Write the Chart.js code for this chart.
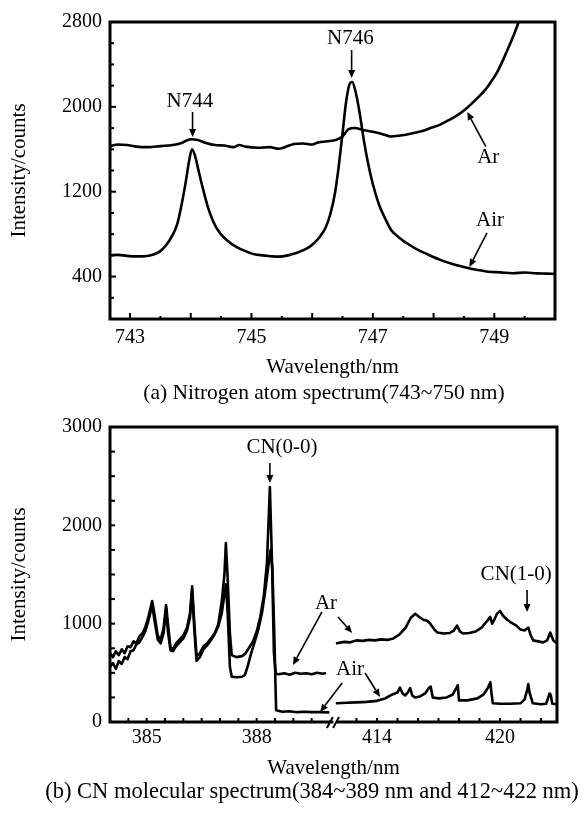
<!DOCTYPE html>
<html>
<head>
<meta charset="utf-8">
<title>Nitrogen and CN emission spectra</title>
<script src="https://cdn.jsdelivr.net/npm/chart.js@4.4.1/dist/chart.umd.min.js"></script>
<style>
  body { margin: 0; background: #fff; }
  #page { position: relative; width: 584px; height: 813px; overflow: hidden; font-family: "Liberation Serif", "Times New Roman", serif; color: #000; }
  #topChart { position: absolute; left: 0; top: 0; }
  #botChart { position: absolute; left: 0; top: 380px; }
  .caption { position: absolute; white-space: nowrap; transform: translateX(-50%); }
</style>
</head>
<body>
<div id="page">
  <canvas id="topChart" width="584" height="380"></canvas>
  <canvas id="botChart" width="584" height="433"></canvas>
  <div class="caption" style="left:324px; top:382px; font-size:21.5px; line-height:21px;">(a) Nitrogen atom spectrum(743~750 nm)</div>
  <div class="caption" style="left:312px; top:780px; font-size:22.5px; line-height:22px;">(b) CN molecular spectrum(384~389 nm and 412~422 nm)</div>
</div>
<script>
// (a) nitrogen atom lines, 743-750 nm
const topArX = [742.67, 742.8, 742.95, 743.1, 743.3, 743.5, 743.7, 743.85, 744.0, 744.1, 744.25, 744.4, 744.55, 744.7, 744.8, 744.9, 745.1, 745.3, 745.45, 745.55, 745.7, 745.85, 746.0, 746.1, 746.25, 746.4, 746.5, 746.6, 746.7, 746.85, 747.0, 747.15, 747.3, 747.45, 747.6, 747.8, 747.95, 748.1, 748.25, 748.4, 748.55, 748.7, 748.85, 748.95, 749.05, 749.15, 749.25, 749.35, 749.42];
const topArY = [1630, 1645, 1640, 1625, 1620, 1630, 1640, 1660, 1695, 1690, 1660, 1640, 1635, 1620, 1640, 1625, 1615, 1620, 1605, 1620, 1650, 1655, 1645, 1665, 1675, 1690, 1720, 1790, 1800, 1780, 1765, 1745, 1720, 1730, 1745, 1770, 1800, 1830, 1875, 1925, 1990, 2070, 2160, 2240, 2330, 2450, 2580, 2720, 2830];
const topAirX = [742.67, 742.8, 742.95, 743.1, 743.25, 743.4, 743.5, 743.6, 743.7, 743.78, 743.85, 743.92, 743.97, 744.02, 744.07, 744.12, 744.2, 744.28, 744.37, 744.48, 744.6, 744.75, 744.9, 745.05, 745.2, 745.35, 745.45, 745.6, 745.75, 745.9, 746.02, 746.12, 746.22, 746.3, 746.38, 746.44, 746.5, 746.56, 746.62, 746.66, 746.72, 746.78, 746.85, 746.92, 747.0, 747.1, 747.2, 747.3, 747.45, 747.6, 747.75, 747.9, 748.1, 748.3, 748.5, 748.7, 748.9, 749.1, 749.3, 749.5, 749.7, 749.85, 750.0];
const topAirY = [600, 605, 595, 590, 592, 610, 640, 700, 790, 900, 1080, 1300, 1480, 1600, 1540, 1420, 1230, 1060, 920, 810, 740, 680, 640, 610, 600, 590, 588, 600, 625, 660, 710, 770, 860, 990, 1200, 1450, 1750, 2050, 2220, 2235, 2130, 1950, 1690, 1470, 1270, 1080, 950, 840, 760, 700, 650, 610, 560, 520, 490, 465, 445, 440, 432, 438, 430, 428, 425];
const topXLabels = [743, 745, 747, 749];
const topYLabels = [400, 1200, 2000, 2800];

// (b) CN bands: 384-390 nm (left part) and 412-422.8 nm (right part)
const botArLX = [384.0, 384.08, 384.16, 384.24, 384.32, 384.4, 384.48, 384.56, 384.64, 384.72, 384.8, 384.88, 384.96, 385.04, 385.1, 385.15, 385.22, 385.3, 385.38, 385.46, 385.53, 385.58, 385.65, 385.72, 385.8, 385.9, 386.0, 386.1, 386.18, 386.24, 386.3, 386.36, 386.45, 386.55, 386.65, 386.75, 386.85, 386.95, 387.05, 387.12, 387.16, 387.21, 387.27, 387.32, 387.45, 387.6, 387.7, 387.8, 387.9, 388.0, 388.1, 388.2, 388.28, 388.36, 388.42, 388.47, 388.52, 388.6, 388.75, 388.9, 389.05, 389.2, 389.35, 389.5, 389.65, 389.8, 389.86];
const botArLY = [700, 660, 720, 680, 740, 700, 770, 760, 820, 800, 870, 900, 960, 1060, 1150, 1230, 1080, 880, 840, 950, 1190, 1000, 760, 740, 800, 840, 880, 960, 1100, 1380, 1000, 670, 700, 770, 800, 850, 900, 990, 1230, 1500, 1820, 1450, 900, 680, 660, 670, 700, 760, 820, 920, 1070, 1300, 1620, 2390, 1600, 700, 490, 485, 495, 480, 500, 490, 495, 485, 500, 490, 495];
const botAirLX = [384.0, 384.08, 384.16, 384.24, 384.32, 384.4, 384.48, 384.56, 384.64, 384.72, 384.8, 384.88, 384.96, 385.04, 385.1, 385.15, 385.22, 385.3, 385.38, 385.46, 385.53, 385.58, 385.65, 385.72, 385.8, 385.9, 386.0, 386.1, 386.18, 386.24, 386.3, 386.36, 386.45, 386.55, 386.65, 386.75, 386.85, 386.95, 387.05, 387.12, 387.16, 387.21, 387.27, 387.32, 387.45, 387.6, 387.68, 387.75, 387.85, 387.95, 388.05, 388.15, 388.25, 388.33, 388.38, 388.43, 388.48, 388.53, 388.7, 388.9, 389.1, 389.3, 389.5, 389.7, 389.95];
const botAirLY = [560, 600, 540, 620, 590, 660, 640, 720, 730, 790, 810, 860, 920, 1020, 1110, 1190, 1020, 840, 800, 900, 1150, 920, 730, 720, 770, 810, 850, 930, 1060, 1330, 940, 620, 660, 740, 780, 830, 890, 970, 1110, 1300, 1400, 1100, 560, 460, 455, 460, 480, 560, 700, 820, 950, 1120, 1380, 1620, 1750, 1550, 900, 120, 105, 110, 100, 105, 100, 100, 98];
const botArRX = [412.05, 412.4, 412.7, 413.0, 413.3, 413.6, 413.9, 414.2, 414.5, 414.8, 415.1, 415.4, 415.65, 415.87, 416.05, 416.26, 416.45, 416.6, 416.8, 416.95, 417.25, 417.55, 417.75, 417.9, 418.05, 418.2, 418.5, 418.8, 419.1, 419.38, 419.52, 419.62, 419.72, 419.85, 420.0, 420.15, 420.35, 420.55, 420.8, 421.0, 421.2, 421.38, 421.5, 421.62, 421.85, 422.1, 422.3, 422.45, 422.6, 422.78];
const botArRY = [800, 815, 810, 830, 825, 835, 830, 840, 835, 850, 890, 960, 1060, 1100, 1070, 1040, 1030, 1000, 940, 910, 900, 905, 930, 980, 920, 900, 905, 920, 960, 1030, 1070, 1000, 1040, 1100, 1130, 1080, 1040, 1010, 980, 940, 930, 960, 880, 830, 820, 810, 830, 910, 830, 800];
const botAirRX = [412.05, 412.5, 413.0, 413.5, 414.0, 414.4, 414.75, 415.0, 415.12, 415.25, 415.38, 415.5, 415.62, 415.72, 415.85, 416.1, 416.35, 416.55, 416.62, 416.72, 417.0, 417.4, 417.7, 417.88, 417.94, 418.0, 418.4, 418.9, 419.2, 419.42, 419.53, 419.58, 419.65, 420.0, 420.5, 421.0, 421.2, 421.33, 421.38, 421.44, 421.6, 422.0, 422.25, 422.42, 422.48, 422.55, 422.78];
const botAirRY = [190, 195, 200, 205, 215, 240, 280, 300, 350, 290, 270, 300, 345, 270, 250, 260, 290, 350, 360, 250, 240, 250, 280, 350, 375, 220, 220, 240, 280, 350, 405, 300, 190, 185, 185, 190, 230, 330, 385, 300, 190, 180, 185, 290, 270, 185, 180];
const botLeftLabels = [385, 388];
const botRightLabels = [414, 420];
const botYLabels = [0, 1000, 2000, 3000];

const SERIF = '"Liberation Serif", "Times New Roman", serif';
Chart.defaults.font.family = SERIF;
Chart.defaults.font.size = 20;
Chart.defaults.color = '#000';

const zip = (xs, ys) => xs.map((x, i) => ({ x: x, y: ys[i] }));
const range = (a, b, s) => { const r = []; for (let v = a; v <= b + 1e-9; v += s) r.push(+v.toFixed(2)); return r; };
const fixedTicks = vals => scale => { scale.ticks = vals.map(v => ({ value: v })); };

function line(data, xAxisID, smooth) {
  return {
    data: data,
    xAxisID: xAxisID,
    borderColor: '#000',
    borderWidth: 2.6,
    pointRadius: 0,
    fill: false,
    clip: 0,
    tension: 0,
    cubicInterpolationMode: smooth ? 'monotone' : 'default',
    borderJoinStyle: 'round',
    borderCapStyle: 'round'
  };
}

function drawArrow(ctx, x1, y1, x2, y2) {
  const ang = Math.atan2(y2 - y1, x2 - x1), L = 8, W = 3.5;
  const bx = x2 - L * Math.cos(ang), by = y2 - L * Math.sin(ang);
  ctx.beginPath(); ctx.moveTo(x1, y1); ctx.lineTo(bx, by); ctx.stroke();
  ctx.beginPath();
  ctx.moveTo(x2, y2);
  ctx.lineTo(bx + W * Math.sin(ang), by - W * Math.cos(ang));
  ctx.lineTo(bx - W * Math.sin(ang), by + W * Math.cos(ang));
  ctx.closePath(); ctx.fill();
}

// box frame, inward tick marks, axis break and annotations
const framePlugin = {
  id: 'frame',
  afterDatasetsDraw(chart, args, opts) {
    const { ctx, chartArea: a } = chart;
    ctx.save();
    ctx.strokeStyle = '#000';
    ctx.lineWidth = 2;
    (opts.marks || []).forEach(m => {
      const sc = chart.scales[m.scale];
      m.values.forEach(v => {
        const p = sc.getPixelForValue(v);
        ctx.beginPath();
        if (sc.isHorizontal()) { ctx.moveTo(p, a.bottom); ctx.lineTo(p, a.bottom - m.len); }
        else { ctx.moveTo(a.left, p); ctx.lineTo(a.left + m.len, p); }
        ctx.stroke();
      });
    });
    ctx.lineWidth = 3;
    ctx.lineCap = 'square';
    ctx.beginPath();
    ctx.moveTo(a.left, a.bottom); ctx.lineTo(a.left, a.top); ctx.lineTo(a.right, a.top); ctx.lineTo(a.right, a.bottom);
    if (opts.gap) {
      const g1 = chart.scales[opts.gap.left.scale].getPixelForValue(opts.gap.left.value);
      const g2 = chart.scales[opts.gap.right.scale].getPixelForValue(opts.gap.right.value);
      ctx.lineTo(g2, a.bottom);
      ctx.moveTo(g1, a.bottom); ctx.lineTo(a.left, a.bottom);
      ctx.stroke();
      ctx.lineWidth = 2;
      ctx.lineCap = 'butt';
      ctx.beginPath();
      ctx.moveTo(g1 - 5, a.bottom + 6); ctx.lineTo(g1 + 1, a.bottom - 5);
      ctx.moveTo(g2 - 5, a.bottom + 6); ctx.lineTo(g2 + 1, a.bottom - 5);
      ctx.stroke();
    } else {
      ctx.closePath();
      ctx.stroke();
    }
    ctx.restore();
  },
  afterDraw(chart, args, opts) {
    const { ctx, chartArea: a } = chart;
    const ys = chart.scales.y;
    ctx.save();
    ctx.fillStyle = '#000';
    ctx.strokeStyle = '#000';
    ctx.textAlign = 'center';
    ctx.textBaseline = 'middle';
    // labels of the hidden second x axis (right part of the broken axis)
    ctx.font = '20px ' + SERIF;
    (opts.extraLabels || []).forEach(l => {
      const sc = chart.scales[l.scale];
      l.values.forEach(v => ctx.fillText(String(v), sc.getPixelForValue(v), a.bottom + l.offset));
    });
    ctx.lineWidth = 1.6;
    ctx.font = '21px ' + SERIF;
    (opts.notes || []).forEach(n => {
      const xs = chart.scales[n.scale || 'x'];
      if (n.text) ctx.fillText(n.text, xs.getPixelForValue(n.x), ys.getPixelForValue(n.y));
      if (n.from) drawArrow(ctx, xs.getPixelForValue(n.from[0]), ys.getPixelForValue(n.from[1]),
        xs.getPixelForValue(n.to[0]), ys.getPixelForValue(n.to[1]));
    });
    ctx.restore();
  }
};

const titleFont = { size: 21, family: SERIF };

new Chart(document.getElementById('topChart'), {
  type: 'line',
  data: {
    datasets: [
      line(zip(topArX, topArY), 'x', true),
      line(zip(topAirX, topAirY), 'x', true)
    ]
  },
  options: {
    responsive: false,
    animation: false,
    events: [],
    layout: { padding: { left: 0, right: 29, top: 22, bottom: 0 } },
    scales: {
      x: {
        type: 'linear', min: 742.67, max: 750,
        afterBuildTicks: fixedTicks(topXLabels),
        afterFit: s => { s.height = 61; },
        grid: { display: false, drawTicks: false },
        border: { display: false },
        ticks: { padding: 7, autoSkip: false, maxRotation: 0, callback: v => String(v) },
        title: { display: true, text: 'Wavelength/nm', font: titleFont, padding: { top: 0, bottom: 0 } }
      },
      y: {
        type: 'linear', min: 0, max: 2800,
        afterBuildTicks: fixedTicks(topYLabels),
        afterFit: s => { s.width = 110; },
        grid: { display: false, drawTicks: false },
        border: { display: false },
        ticks: { padding: 8, callback: v => String(v) },
        title: { display: true, text: 'Intensity/counts', font: titleFont, padding: { top: 7, bottom: 0 } }
      }
    },
    plugins: {
      legend: { display: false },
      tooltip: { enabled: false },
      frame: {
        marks: [
          { scale: 'x', values: range(743, 749, 1), len: 6 },
          { scale: 'x', values: range(743.5, 749.5, 1), len: 3 },
          { scale: 'y', values: [400, 1200, 2000], len: 6 },
          { scale: 'y', values: [200, 600, 800, 1000, 1400, 1600, 1800, 2200, 2400, 2600], len: 4 }
        ],
        notes: [
          { text: 'N744', x: 743.985, y: 2055, from: [744.03, 1952], to: [744.03, 1716] },
          { text: 'N746', x: 746.63, y: 2649, from: [746.65, 2536], to: [746.65, 2272] },
          { text: 'Ar', x: 748.9, y: 1520, from: [748.86, 1625], to: [748.555, 1952] },
          { text: 'Air', x: 748.93, y: 933, from: [748.88, 811], to: [748.59, 490] }
        ]
      }
    }
  },
  plugins: [framePlugin]
});

new Chart(document.getElementById('botChart'), {
  type: 'line',
  data: {
    datasets: [
      line(zip(botArLX, botArLY), 'x', false),
      line(zip(botAirLX, botAirLY), 'x', false),
      line(zip(botArRX, botArRY), 'x2', false),
      line(zip(botAirRX, botAirRY), 'x2', false)
    ]
  },
  options: {
    responsive: false,
    animation: false,
    events: [],
    layout: { padding: { left: 0, right: 27, top: 47, bottom: 32 } },
    scales: {
      x: {
        type: 'linear', position: 'bottom', min: 384, max: 396.19,
        afterBuildTicks: fixedTicks(botLeftLabels),
        afterFit: s => { s.height = 59; },
        grid: { display: false, drawTicks: false },
        border: { display: false },
        ticks: { padding: 4, autoSkip: false, maxRotation: 0, callback: v => String(v) },
        title: { display: true, text: 'Wavelength/nm', font: titleFont, padding: { top: 0, bottom: 0 } }
      },
      x2: {
        type: 'linear', position: 'bottom', display: false, min: 400.98, max: 422.78
      },
      y: {
        type: 'linear', min: 0, max: 3000,
        afterBuildTicks: fixedTicks(botYLabels),
        afterFit: s => { s.width = 110; },
        grid: { display: false, drawTicks: false },
        border: { display: false },
        ticks: { padding: 8, callback: v => String(v) },
        title: { display: true, text: 'Intensity/counts', font: titleFont, padding: { top: 7, bottom: 0 } }
      }
    },
    plugins: {
      legend: { display: false },
      tooltip: { enabled: false },
      frame: {
        marks: [
          { scale: 'x', values: range(384.5, 389.5, 0.5), len: 4 },
          { scale: 'x2', values: range(413, 422, 1), len: 4 },
          { scale: 'y', values: range(250, 2750, 250), len: 5 }
        ],
        gap: { left: { scale: 'x', value: 390.05 }, right: { scale: 'x2', value: 412.1 } },
        extraLabels: [{ scale: 'x2', values: botRightLabels, offset: 16 }],
        notes: [
          { text: 'CN(0-0)', x: 388.69, y: 2787, from: [388.36, 2634], to: [388.36, 2431] },
          { text: 'Ar', x: 389.89, y: 1210, from: [389.78, 1119], to: [388.99, 580] },
          { scale: 'x2', from: [412.1, 1068], to: [412.79, 905] },
          { scale: 'x2', text: 'Air', x: 412.69, y: 529, from: [413.42, 498], to: [414.15, 254] },
          { from: [390.33, 397], to: [389.73, 102] },
          { scale: 'x2', text: 'CN(1-0)', x: 420.79, y: 1505, from: [421.32, 1342], to: [421.32, 1119] }
        ]
      }
    }
  },
  plugins: [framePlugin]
});
</script>
</body>
</html>
